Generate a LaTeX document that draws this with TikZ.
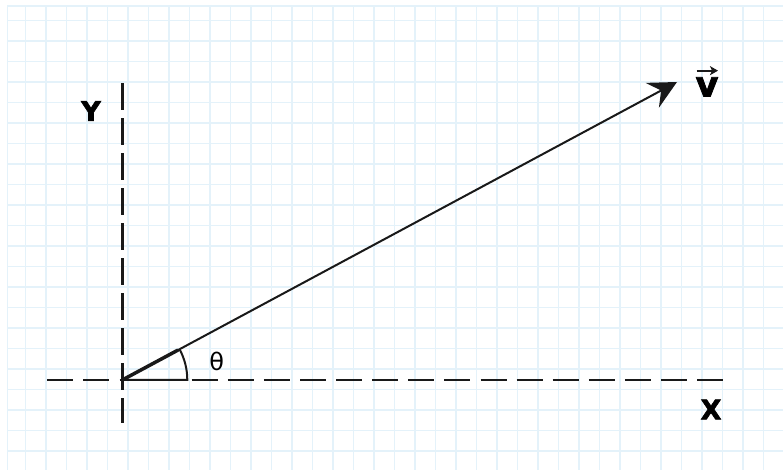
\documentclass[tikz,border=0pt]{standalone}
\usepackage{fontspec}
\setmainfont{Liberation Sans}
\newfontfamily\heavyfont[FakeBold=2.2]{DejaVu Sans Bold}
\newfontfamily\thetafont{DejaVu Sans}
\usepackage{tikz}
\usetikzlibrary{arrows.meta}

\definecolor{gridblue}{RGB}{228,242,250}
\tikzset{
  gridline/.style={gridblue,line width=1.6pt},
  axis/.style={black!90,line width=2.5pt},
  vecline/.style={black!90,line width=2pt},
  axislabel/.style={font=\heavyfont\fontsize{27}{27}\selectfont,inner sep=0pt}
}

\begin{document}
\begin{tikzpicture}[x=1pt,y=1pt]
  \useasboundingbox (0,0) rectangle (783,470);
  % squared paper
  \foreach \k in {0,...,36} {
    \draw[gridline] ({25.3+20.5*\k},0) -- ({25.3+20.5*\k},464);
  }
  \foreach \k in {0,...,21} {
    \draw[gridline] (7.5,{449.3-20.5*\k}) -- (783,{449.3-20.5*\k});
  }
  \draw[gridline] (7.5,0) -- (7.5,464) -- (783,464);

  % axes
  \coordinate (O) at (122.3,90);
  \coordinate (xstart) at (47.3,90);
  \coordinate (xend) at (725,90);
  \coordinate (ytop) at (122.3,386.7);
  \coordinate (ybot) at (122.3,46.7);
  \draw[axis,dash pattern=on 26pt off 10.1pt] (xstart) -- (xend);
  \draw[axis,dash pattern=on 26.7pt off 8.3pt] (ytop) -- (ybot);

  % vector and angle
  \coordinate (vtip) at (677,388);
  \draw[vecline,-{Stealth[length=28pt,width=28pt,inset=10pt]}] (O) -- (vtip);
  \draw[vecline] (O) -- ++(65,0) arc[start angle=0,end angle=28.25,radius=65];
  \draw[black!90,line width=3.5pt,line cap=round] (O) -- ++(28.25:63);

  % labels
  \node[axislabel] (ylabel) at (91,359) {Y};
  \node[axislabel] (xlabel) at (711,60.5) {X};
  \node[axislabel,font=\heavyfont\fontsize{35}{35}\selectfont,anchor=base] (vlabel) at (707,373.5) {v};
  \draw[black!90,line width=2.2pt,-{Stealth[length=8pt,width=9pt,inset=2pt]}]
    ([xshift=-10.5pt,yshift=6.5pt]vlabel.north) -- ([xshift=11pt,yshift=6.5pt]vlabel.north);
  \node[inner sep=0pt,font=\thetafont\fontsize{24}{24}\selectfont] (thetalabel) at (216.7,108.3) {θ};
\end{tikzpicture}
\end{document}
